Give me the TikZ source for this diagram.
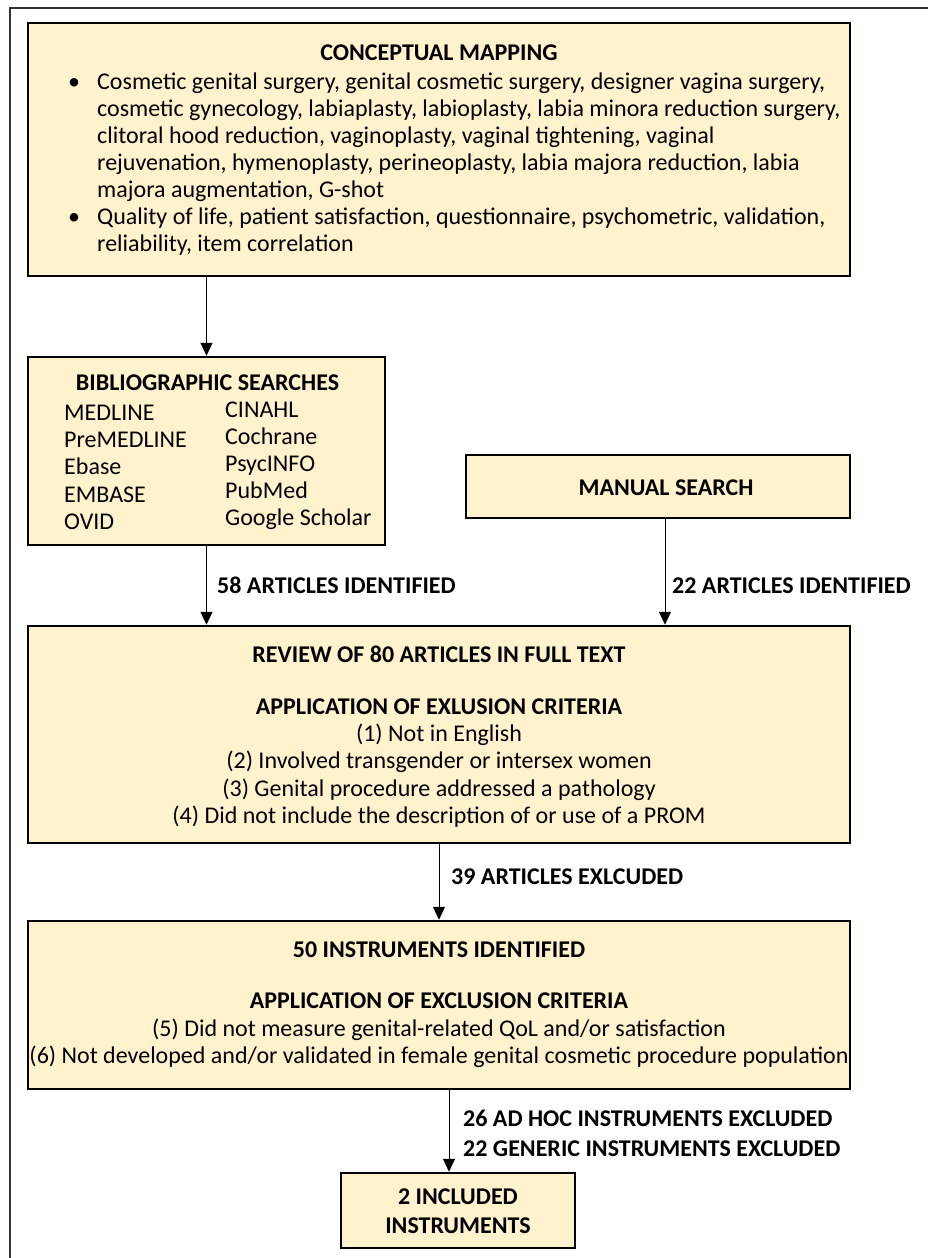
\documentclass[tikz,border=0pt]{standalone}
\usepackage{fontspec}
\setmainfont{Carlito}
\usetikzlibrary{arrows.meta}
\definecolor{boxfill}{HTML}{FFF2CC}

\begin{document}
\begin{tikzpicture}[x=1pt,y=-1pt,
  box/.style={draw=black,line width=2.5pt,fill=boxfill,inner sep=0pt},
  txt/.style={inner sep=0pt,anchor=base,font=\fontsize{24}{27}\selectfont},
  txtl/.style={txt,anchor=base west},
  bld/.style={txt,font=\fontsize{24}{27}\selectfont\bfseries},
  bldl/.style={bld,anchor=base west},
  arr/.style={line width=1pt,-{Triangle[width=12pt,length=13pt]}}]
\useasboundingbox (0,0) rectangle (928,1258);
\draw [line width=2pt,black!80] (10,1262) -- (10,8) -- (932,8);
% boxes
\node [box,minimum width=822,minimum height=253] (mapping) at (439,149.5) {};
\node [box,minimum width=357,minimum height=188] (search) at (206.5,451) {};
\node [box,minimum width=384,minimum height=63] (manual) at (658,486.5) {};
\node [box,minimum width=822,minimum height=217] (review) at (439,734.5) {};
\node [box,minimum width=822,minimum height=168] (instr) at (439,1005) {};
\node [box,minimum width=234,minimum height=75] (incl) at (458,1210.5) {};
% conceptual mapping
\node [bld] (maptitle) at (439,60) {CONCEPTUAL MAPPING};
\node [txtl] (bulleta) at (68,89) {\textbullet};
\node [txtl] (mapa) at (97,89) {Cosmetic genital surgery, genital cosmetic surgery, designer vagina surgery,};
\node [txtl] (mapb) at (97,116) {cosmetic gynecology, labiaplasty, labioplasty, labia minora reduction surgery,};
\node [txtl] (mapc) at (97,143) {clitoral hood reduction, vaginoplasty, vaginal tightening, vaginal};
\node [txtl] (mapd) at (97,170) {rejuvenation, hymenoplasty, perineoplasty, labia majora reduction, labia};
\node [txtl] (mape) at (97,197) {majora augmentation, G-shot};
\node [txtl] (bulletb) at (68,224) {\textbullet};
\node [txtl] (mapf) at (97,224) {Quality of life, patient satisfaction, questionnaire, psychometric, validation,};
\node [txtl] (mapg) at (97,251) {reliability, item correlation};
% bibliographic searches
\node [bld] (srchtitle) at (207.5,390) {BIBLIOGRAPHIC SEARCHES};
\node [txtl] (dba) at (64,420) {MEDLINE};
\node [txtl] (dbb) at (64,447) {PreMEDLINE};
\node [txtl] (dbc) at (64,474) {Ebase};
\node [txtl] (dbd) at (64,502) {EMBASE};
\node [txtl] (dbe) at (64,529) {OVID};
\node [txtl] (dbf) at (225,417) {CINAHL};
\node [txtl] (dbg) at (225,444) {Cochrane};
\node [txtl] (dbh) at (225,471) {PsycINFO};
\node [txtl] (dbi) at (225,498) {PubMed};
\node [txtl] (dbj) at (225,525) {Google Scholar};
\node [bld] (mantitle) at (666,495) {MANUAL SEARCH};
% full text review
\node [bld] (revtitle) at (439,662) {REVIEW OF 80 ARTICLES IN FULL TEXT};
\node [bld] (revcrit) at (439,714) {APPLICATION OF EXLUSION CRITERIA};
\node [txt] (reva) at (439,741) {(1) Not in English};
\node [txt] (revb) at (439,768) {(2) Involved transgender or intersex women};
\node [txt] (revc) at (439,796) {(3) Genital procedure addressed a pathology};
\node [txt] (revd) at (439,823) {(4) Did not include the description of or use of a PROM};
% instruments
\node [bld] (insttitle) at (439,957) {50 INSTRUMENTS IDENTIFIED};
\node [bld] (instcrit) at (439,1008) {APPLICATION OF EXCLUSION CRITERIA};
\node [txt] (insta) at (439,1036) {(5) Did not measure genital-related QoL and/or satisfaction};
\node [txt] (instb) at (439,1063) {(6) Not developed and/or validated in female genital cosmetic procedure population};
\node [bld] (incla) at (458,1204) {2 INCLUDED};
\node [bld] (inclb) at (458,1233) {INSTRUMENTS};
% connectors
\draw [arr] (mapping.south -| search.north) -- (search.north);
\draw [arr] (search.south) -- (search.south |- review.north);
\draw [arr] ([xshift=7pt]manual.south) -- ([xshift=7pt]manual.south |- review.north);
\draw [arr] (review.south) -- (instr.north);
\draw [arr] ([xshift=-9pt]incl.north |- instr.south) -- ([xshift=-9pt]incl.north);
\node [bldl] (found58) at (217,593) {58 ARTICLES IDENTIFIED};
\node [bldl] (found22) at (672,593) {22 ARTICLES IDENTIFIED};
\node [bldl] (excl39) at (451,884) {39 ARTICLES EXLCUDED};
\node [bldl] (excladhoc) at (463,1126) {26 AD HOC INSTRUMENTS EXCLUDED};
\node [bldl] (exclgen) at (463,1156) {22 GENERIC INSTRUMENTS EXCLUDED};
\end{tikzpicture}
\end{document}
